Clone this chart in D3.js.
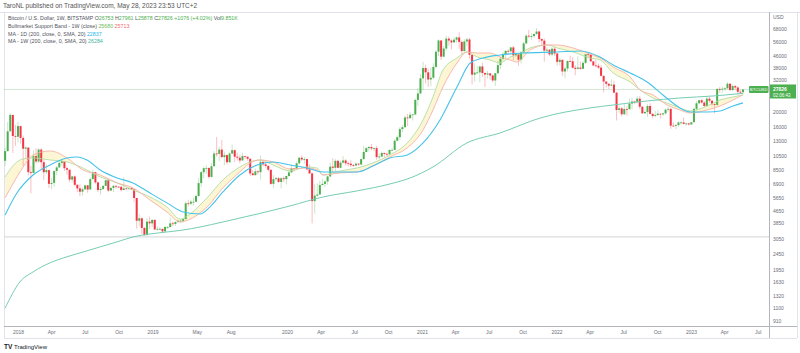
<!DOCTYPE html>
<html><head><meta charset="utf-8">
<script src="https://cdn.jsdelivr.net/npm/d3@7/dist/d3.min.js"></script>
<style>
html,body{margin:0;padding:0;background:#fff;}
svg{display:block;font-family:"Liberation Sans",Arial,sans-serif;}
</style></head><body>
<svg id="chart" width="800" height="353"></svg>
<script>
// ---------- DATA ----------
const firstWeek = "2017-11-27";   // Monday of the first weekly candle
const firstOpen = 9700;
const closes = [
 11200,15000,19100,14000,13850,
 16200,13600,11600,11800,8200,8100,10400,9600,11450,9500,8200,8450,6900,7000,8350,8800,9400,9650,8700,8500,7350,7700,6800,6450,6150,6370,6750,6350,7400,8200,7050,6300,6400,6700,7280,6250,6500,6700,6620,6600,6300,6450,6400,6480,6350,5600,4000,4150,3600,3240,3950,3850,4050,
 3520,3550,3550,3420,3650,3650,3850,3820,3930,4000,4000,4100,5180,5150,5300,5300,5770,6980,8200,8700,8730,7650,8950,10800,10750,11450,10250,10550,9500,10800,11350,10300,10150,9750,10400,10300,10000,8050,7850,8300,8200,9550,9200,9000,8500,6900,7400,7500,7100,7500,7400,7750,
 8180,8700,8600,9350,10150,9900,9950,8550,8050,5350,5800,5900,6780,6900,7150,7700,8900,8750,9700,8750,9450,9750,9350,9300,9100,9050,9300,9180,9950,11050,11700,11900,11650,11700,10250,10330,10900,10750,10700,11400,11400,13050,13750,15500,15950,18400,18200,19150,19250,23850,26250,32800,
 38200,35850,32250,33100,38850,48600,57400,45200,50950,59000,57350,55800,58100,60000,56150,49050,56600,58250,46450,34650,35700,35800,39100,35500,34700,35300,34250,31800,35400,39850,43800,47050,49250,48850,51800,46050,47250,43200,48200,54950,61550,60850,61300,63250,65500,58650,57250,49400,50100,46700,50800,47350,
 41850,43100,36300,37900,42400,42200,38350,37700,38450,37800,41250,46800,46400,42150,39700,39450,38450,34050,31300,30250,29450,29900,26550,20550,21050,19300,20850,20800,22600,23300,23200,24300,21550,19550,19950,21800,19400,18800,19050,19450,19250,19550,20650,20900,16300,16250,16450,17100,17100,16750,16850,16600,
 17150,20900,22700,23750,22950,21800,24300,23550,22400,22150,28000,27950,28150,28300,30300,27600,29250,28650,26900,26753,27826
];
const highs = [
 11800,17200,19666,19200,16500,
 17250,16300,14100,12000,11800,9000,11300,11700,11700,11700,9900,9180,8500,7500,8400,9000,9750,9950,9650,8900,8550,7770,7800,6900,6850,6550,6800,6800,7580,8500,8250,7150,6600,6800,7300,7400,6550,6800,6750,6650,6700,7600,6500,6500,6550,6400,5600,4400,4200,3650,4150,4250,4100,
 4100,3700,3650,3550,3720,3700,4200,3950,3950,4050,4100,4150,5350,5450,5450,5650,5900,7500,8350,8900,9100,8800,9350,11200,13800,12000,13200,11100,10650,11000,12300,11450,10950,10600,10900,10450,10350,10050,8450,8650,8400,10500,9850,9550,9100,8500,7850,7650,7650,7600,7700,7800,
 8450,9200,8750,9600,10200,10500,10250,9950,9200,8150,6900,6950,7200,7450,7250,7750,9450,10050,9950,9850,9700,10400,9950,9600,9800,9300,9450,9350,10000,12100,11900,12100,12450,11800,12100,10800,11150,10950,10950,11450,11700,13350,14100,15950,16450,18950,19400,19900,19400,24300,28400,34800,
 41950,40100,37850,38500,41000,49700,58350,57500,52600,61700,61000,58400,60100,61100,64850,57500,58400,59600,59600,46600,40900,39500,39500,41300,35750,36600,35400,34650,35400,42600,45300,48150,49500,50500,51950,52950,48850,47350,49200,56550,62950,67000,63700,63500,69000,66300,59300,59100,51950,50350,52100,52100,
 47550,44450,43500,38900,42600,45850,44750,39850,45400,42050,42350,47000,48250,47150,42400,42950,40750,40000,34250,31300,30650,32350,31700,26850,21850,21500,22500,21650,24300,24650,23650,25200,25200,21800,20550,22350,22700,19700,20350,20450,19500,19700,21000,21450,21050,17150,16750,17400,17450,18400,17050,16950,
 17200,21250,23350,23800,24250,23400,25250,25050,23900,22600,28400,28850,29150,28750,31000,30450,30050,29850,29200,27650,27961
];
const lows = [
 9000,11100,15000,10900,12100,
 12750,12500,9000,10000,7800,6000,8100,9300,9400,8500,7300,8000,6500,6400,6600,7850,8700,9000,8350,7900,7050,7050,6650,6100,5750,5800,6300,6050,6330,7400,6900,6100,5880,6300,6700,6100,6200,6100,6400,6500,6150,6300,6380,6280,6350,5300,3560,3700,3300,3200,3200,3550,3650,
 3500,3480,3500,3350,3400,3550,3600,3700,3700,3850,3900,3900,4100,4950,5050,5000,5250,5700,6600,7500,8000,7450,7550,8950,10300,9650,10100,9100,9200,9400,10700,9500,9750,9350,9750,9950,9700,7750,7800,7800,7900,7350,8950,8750,8300,6800,6500,7200,7000,6450,7100,6850,
 7650,8100,8250,8550,9150,9650,9300,8450,8000,3850,4450,5700,5850,6750,6550,6800,7650,8150,8200,8700,8650,9300,9050,8950,8850,8900,9050,9000,9150,9900,11000,11150,11350,11150,9850,9900,10250,10150,10400,10550,11200,11400,12950,13200,14800,15800,16200,18150,17600,19000,21800,26050,
 27700,30400,28800,29250,32300,38050,45600,43000,44950,49250,53100,50400,55550,55500,50900,47050,48800,53000,43900,30000,31200,34800,31000,33350,28800,32700,32100,31050,29300,34800,37450,42800,43950,46350,46900,42850,44750,39550,40800,46900,54300,59700,58000,59700,62300,55650,53600,42000,47350,45650,45500,45700,
 39650,39700,34000,32950,36250,41700,38000,34300,37900,37200,37650,40500,44200,41850,39200,38550,37600,33700,26700,28650,28000,29300,26500,17600,19650,18700,19000,18900,20750,20700,22400,22700,20800,19550,19550,18550,19350,18150,18500,19100,18150,18950,19250,20050,15550,16150,15500,16050,16700,16550,16300,16350,
 16550,17150,20400,22300,22550,21400,21550,22800,21950,19550,21900,26600,26550,27250,28200,27150,27050,27700,25800,26350,25878
];

// Bull market support band
const bandDates = ["2017-11-27","2017-12-29","2018-01-15","2018-02-11","2018-03-29","2018-05-14","2018-06-26","2018-08-12","2018-09-27","2018-11-09","2018-12-25","2019-02-09","2019-03-17","2019-04-13","2019-05-10","2019-05-29","2019-07-11","2019-08-26","2019-09-23","2019-10-20","2019-11-24","2020-01-09","2020-02-24","2020-03-22","2020-04-08","2020-05-24","2020-07-09","2020-08-21","2020-10-06","2020-11-22","2021-01-04","2021-01-31","2021-02-27","2021-04-06","2021-05-03","2021-05-31","2021-07-05","2021-08-01","2021-08-28","2021-09-16","2021-10-21","2021-12-07","2022-01-03","2022-02-15","2022-04-02","2022-04-29","2022-06-04","2022-07-20","2022-08-16","2022-09-20","2022-10-28","2022-12-02","2022-12-30","2023-02-14","2023-03-21","2023-04-25","2023-05-22"];
const bandGreen = [7640,9540,9970,10120,9820,9540,8730,7640,7000,6300,5690,4910,4100,4420,5050,5610,7310,8860,9540,9820,9120,8350,8860,8730,7870,8350,8730,9400,10580,12630,17740,24910,37110,44320,48420,44970,43030,41160,44970,46320,51360,53700,51360,48420,44320,43030,35500,31080,27620,24550,22790,21180,20260,21810,23830,24910,25680];
const bandRed = [5610,7640,8860,10580,11220,10120,8480,7870,7000,6500,5440,4560,3930,4100,4490,4910,6500,8230,9400,9820,9540,8600,8730,8480,7870,8110,8230,8990,10270,11730,15300,20560,28880,41160,48420,47710,47710,44970,43030,41770,49870,53700,53700,51360,47000,44320,38800,33460,27620,25660,22130,20560,19670,20560,21810,23830,25713];

// MA - 1D (200)
const ma1dDates = ["2017-11-27","2017-12-29","2018-02-11","2018-03-29","2018-05-14","2018-06-10","2018-07-07","2018-08-12","2018-09-27","2018-11-09","2018-12-25","2019-02-09","2019-03-25","2019-05-10","2019-06-06","2019-07-11","2019-08-26","2019-10-12","2019-11-24","2020-01-09","2020-02-24","2020-04-08","2020-05-24","2020-07-09","2020-08-21","2020-10-06","2020-11-22","2021-01-04","2021-02-19","2021-04-06","2021-05-12","2021-06-16","2021-08-01","2021-10-02","2022-01-03","2022-03-06","2022-04-29","2022-06-04","2022-07-20","2022-09-04","2022-10-17","2022-12-02","2022-12-30","2023-02-14","2023-03-21","2023-04-25","2023-05-22"];
const ma1d = [4360,6030,7870,9120,10120,10270,9820,8480,7530,7000,6030,5210,4560,4420,4910,6120,7870,9120,9540,9120,8730,8230,8230,8230,8990,10120,10580,12630,17740,28880,41160,44320,46320,47710,48420,49140,44970,39960,35500,31080,25660,21180,19960,19960,20260,21810,22837];

// MA - 1W (200)
const ma1wDates = ["2017-11-27","2018-01-06","2018-02-11","2018-03-29","2018-05-14","2018-06-26","2018-08-12","2018-09-27","2018-11-09","2018-12-25","2019-02-09","2019-03-25","2019-05-10","2019-07-11","2019-10-12","2020-01-09","2020-04-08","2020-07-09","2020-10-06","2020-11-30","2021-01-31","2021-05-03","2021-08-01","2021-11-18","2022-04-02","2022-06-04","2022-09-04","2022-12-02","2023-03-02","2023-05-22"];
const ma1w = [1100,1620,1880,2150,2350,2520,2720,2930,3150,3290,3390,3490,3650,3930,4420,4980,5690,6220,6890,7530,8860,12630,14640,18260,21180,22130,23480,24550,25280,26284];

const hLevel = 3150;          // horizontal line drawn on the chart
const lastPrice = 27826;

const priceTicks = [68000,56000,46000,38000,32000,20000,16000,13000,10500,8500,6900,5650,4650,3850,3050,2450,1950,1630,1320,1100,910];
const timeTicks = ["2018-01-01","2018-04-01","2018-07-01","2018-10-01","2019-01-01","2019-05-01","2019-08-01","2020-01-01","2020-04-01","2020-07-01","2020-10-01","2021-01-01","2021-04-01","2021-07-01","2021-10-01","2022-01-01","2022-04-01","2022-07-01","2022-10-01","2023-01-01","2023-04-01","2023-07-01"];
const timeLabels = ["2018","Apr","Jul","Oct","2019","May","Aug","2020","Apr","Jul","Oct","2021","Apr","Jul","Oct","2022","Apr","Jul","Oct","2023","Apr","Jul"];

// ---------- DRAW ----------
const parse = d3.utcParse("%Y-%m-%d");
const svg = d3.select("#chart");
const P = {left:4, right:769, top:12, bottom:326};
const UP = "#4caf50", DOWN = "#f23645";

const x = d3.scaleUtc().domain([parse("2018-01-01"), parse("2023-01-01")]).range([18, 691]);
const y = d3.scaleLog().domain([910, 68000]).range([321, 29]);

const w0 = parse(firstWeek);
const candles = closes.map((c,i)=>{
  const o = i===0 ? firstOpen : closes[i-1];
  return {t: d3.utcDay.offset(w0, 7*i), o, c, h: Math.max(highs[i],o,c), l: Math.min(lows[i],o,c)};
});

svg.append("defs").append("clipPath").attr("id","clip")
  .append("rect").attr("x",P.left).attr("y",P.top).attr("width",P.right-P.left).attr("height",P.bottom-P.top);

// frame
svg.append("line").attr("x1",0).attr("x2",800).attr("y1",P.top+0.5).attr("y2",P.top+0.5).attr("stroke","#e0e3eb");
svg.append("line").attr("x1",P.left+0.5).attr("x2",P.left+0.5).attr("y1",P.top).attr("y2",338).attr("stroke","#e0e3eb");
svg.append("line").attr("x1",P.right+0.5).attr("x2",P.right+0.5).attr("y1",P.top).attr("y2",338).attr("stroke","#b2b5be");
svg.append("line").attr("x1",P.left).attr("x2",797).attr("y1",P.bottom+0.5).attr("y2",P.bottom+0.5).attr("stroke","#b2b5be");
svg.append("line").attr("x1",P.left).attr("x2",797).attr("y1",338.5).attr("y2",338.5).attr("stroke","#e0e3eb");
svg.append("line").attr("x1",797.5).attr("x2",797.5).attr("y1",P.top).attr("y2",338).attr("stroke","#e0e3eb");

const g = svg.append("g").attr("clip-path","url(#clip)");

// horizontal level + last price line
g.append("line").attr("x1",P.left).attr("x2",P.right).attr("y1",y(hLevel)).attr("y2",y(hLevel))
  .attr("stroke","#dcdcdc").attr("stroke-width",1.3);
g.append("line").attr("x1",P.left).attr("x2",P.right).attr("y1",y(lastPrice)).attr("y2",y(lastPrice))
  .attr("stroke",UP).attr("stroke-opacity",0.25).attr("stroke-width",1);

// band
const band = bandDates.map((d,i)=>({t:parse(d), a:bandGreen[i], b:bandRed[i]}));
g.append("path").datum(band)
  .attr("d", d3.area().x(d=>x(d.t)).y0(d=>y(d.a)).y1(d=>y(d.b)).curve(d3.curveMonotoneX))
  .attr("fill","#fdf5cf").attr("fill-opacity",0.9);

// candles
const cg = g.append("g");
cg.selectAll("line").data(candles).join("line")
  .attr("x1",d=>x(d.t)).attr("x2",d=>x(d.t))
  .attr("y1",d=>y(d.h)).attr("y2",d=>y(d.l))
  .attr("stroke",d=>d.c>=d.o?UP:DOWN).attr("stroke-width",0.8).attr("stroke-opacity",0.4);
cg.selectAll("rect").data(candles).join("rect")
  .attr("x",d=>x(d.t)-1).attr("width",2)
  .attr("y",d=>y(Math.max(d.o,d.c)))
  .attr("height",d=>Math.max(0.8, Math.abs(y(d.o)-y(d.c))))
  .attr("fill",d=>d.c>=d.o?UP:DOWN);

// lines
const line = d3.line().x(d=>x(d.t)).y(d=>y(d.v)).curve(d3.curveMonotoneX);
function drawLine(dates, vals, color, width){
  g.append("path").datum(dates.map((d,i)=>({t:parse(d), v:vals[i]})))
   .attr("d", line).attr("fill","none").attr("stroke",color).attr("stroke-width",width);
}
drawLine(bandDates, bandGreen, "#b3dca4", 0.9);
drawLine(bandDates, bandRed, "#f7b0a8", 0.9);
drawLine(ma1wDates, ma1w, "#76cdb4", 1);
drawLine(ma1dDates, ma1d, "#45c3ea", 1.1);

// price axis
const yAxis = svg.append("g").attr("transform",`translate(${P.right+4},0)`)
  .call(d3.axisRight(y).tickValues(priceTicks).tickSize(0).tickPadding(0).tickFormat(d3.format("d")));
yAxis.select(".domain").remove();
yAxis.selectAll("text").attr("fill","#6a6d78").attr("font-size",5).attr("font-family","Liberation Sans, Arial, sans-serif");
svg.append("text").attr("x",P.right+4).attr("y",19).attr("font-size",5).attr("fill","#6a6d78").text("USD");

// time axis
const xAxis = svg.append("g").attr("transform",`translate(0,${P.bottom})`)
  .call(d3.axisBottom(x).tickValues(timeTicks.map(parse)).tickSize(0).tickPadding(4)
    .tickFormat((d,i)=>timeLabels[i]));
xAxis.select(".domain").remove();
xAxis.selectAll("text").attr("fill","#6a6d78").attr("font-size",5).attr("font-family","Liberation Sans, Arial, sans-serif");

// last price labels
const ly = y(lastPrice);
svg.append("rect").attr("x",749).attr("y",ly-3.5).attr("width",19.5).attr("height",7).attr("rx",1).attr("fill",UP);
svg.append("text").attr("x",758.7).attr("y",ly+1.6).attr("text-anchor","middle").attr("font-size",4.3).attr("fill","#fff").text("BTCUSD");
svg.append("rect").attr("x",P.right+1).attr("y",ly-5).attr("width",26).attr("height",14).attr("fill",UP);
svg.append("text").attr("x",P.right+4).attr("y",ly+1.8).attr("font-size",5).attr("font-weight","bold").attr("fill","#fff").text("27826");
svg.append("text").attr("x",P.right+4).attr("y",ly+7.5).attr("font-size",4.5).attr("fill","#fff").text("02:06:43");

// header
svg.append("text").attr("x",3).attr("y",7.5).attr("font-size",6.5).attr("fill","#555").text("TaroNL published on TradingView.com, May 28, 2023 23:53 UTC+2");

// legend
const lg = svg.append("g").attr("font-size",5.3).attr("fill","#50535e");
const l1 = lg.append("text").attr("x",8).attr("y",20);
l1.append("tspan").text("Bitcoin / U.S. Dollar, 1W, BITSTAMP ");
[["O","26753"],["H","27961"],["L","25878"],["C","27826"]].forEach(([k,v])=>{
  l1.append("tspan").text(" "+k); l1.append("tspan").attr("fill",UP).text(v);
});
l1.append("tspan").attr("fill",UP).text("  +1076 (+4.02%)");
l1.append("tspan").text("  Vol"); l1.append("tspan").attr("fill",UP).text("9.851K");
const l2 = lg.append("text").attr("x",8).attr("y",28);
l2.append("tspan").text("Bullmarket Support Band - 1W (close)  ");
l2.append("tspan").attr("fill","#6dbb5a").text("25680 ");
l2.append("tspan").attr("fill","#f06a6a").text(" 25713");
const l3 = lg.append("text").attr("x",8).attr("y",35.5);
l3.append("tspan").text("MA - 1D (200, close, 0, SMA, 20)  ");
l3.append("tspan").attr("fill","#29b6e8").text("22837");
const l4 = lg.append("text").attr("x",8).attr("y",43);
l4.append("tspan").text("MA - 1W (200, close, 0, SMA, 20)  ");
l4.append("tspan").attr("fill","#3fb39a").text("26284");

// footer logo
const ft = svg.append("g");
ft.append("text").attr("x",4).attr("y",349).attr("font-size",6.5).attr("font-weight","bold").attr("fill","#131722").text("TV");
ft.append("text").attr("x",14).attr("y",349).attr("font-size",6).attr("fill","#131722").text("TradingView");
</script>
</body></html>
